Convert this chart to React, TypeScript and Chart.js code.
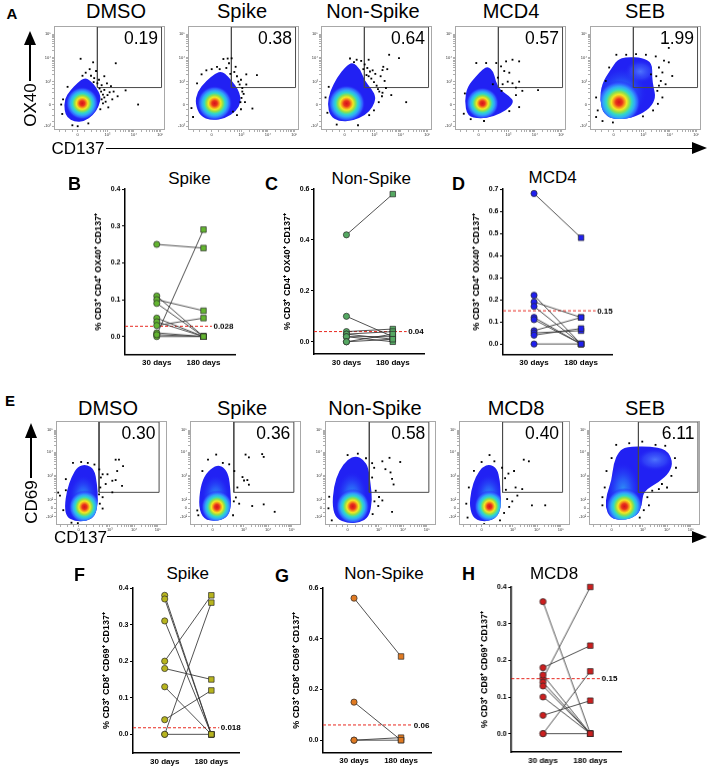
import React, { useEffect, useRef } from 'react';
import { Chart, registerables } from 'chart.js';

Chart.register(...registerables);
const FONT = "'Liberation Sans', Arial, Helvetica, sans-serif";
Chart.defaults.font.family = FONT;
Chart.defaults.color = '#000';

// ---------------- Flow cytometry panels: data (axis units) ----------------
const FLOW_A_TITLES = ['DMSO', 'Spike', 'Non-Spike', 'MCD4', 'SEB'];
const FLOW_A_GATE_VALUES = ['0.19', '0.38', '0.64', '0.57', '1.99'];
const FLOW_E_TITLES = ['DMSO', 'Spike', 'Non-Spike', 'MCD8', 'SEB'];
const FLOW_E_GATE_VALUES = ['0.30', '0.36', '0.58', '0.40', '6.11'];

const FLOW_A_X_TICKS = [0, 1.12, 2.11, 3.1];
const FLOW_A_X_LABELS = ['0', '10³', '10⁴', '10⁵'];
const FLOW_A_Y_TICKS = [-0.92, 0, 0.97, 1.98, 2.99];
const FLOW_A_Y_LABELS = ['-10³', '0', '10³', '10⁴', '10⁵'];
const FLOW_E_X_TICKS = [0, 1.22, 2.17, 3.1];
const FLOW_E_X_LABELS = ['0', '10³', '10⁴', '10⁵'];
const FLOW_E_Y_TICKS = [-0.37, 0, 0.38, 1.4, 2.42, 3.38];
const FLOW_E_Y_LABELS = ['-10²', '0', '10²', '10³', '10⁴', '10⁵'];

const FLOW_A_X_RANGE = [-0.89, 3.28];
const FLOW_A_Y_RANGE = [-1.08, 3.33];
const FLOW_E_X_RANGE = [-0.885, 3.46];
const FLOW_E_Y_RANGE = [-0.72, 3.77];

const FLOW_A_GATES = [
  [0.74, 3.15, 0.72, 3.29], [0.74, 3.15, 0.72, 3.29], [0.74, 3.15, 0.72, 3.29],
  [0.74, 3.15, 0.72, 3.29], [0.74, 3.15, 0.72, 3.29],
];
const FLOW_E_GATES = [
  [0.8, 3.15, 0.69, 3.73], [0.83, 3.18, 0.69, 3.73], [0.85, 3.18, 0.69, 3.73],
  [0.82, 3.17, 0.69, 3.73], [1.05, 3.38, 0.69, 3.73],
];

// density outlines (x, y in axis units)
const A_DMSO_OUTLINE = [[-0.5, -0.25], [-0.5, 0.22], [-0.28, 0.6], [0.0, 0.92], [0.26, 1.15], [0.5, 1.0], [0.7, 0.72], [0.88, 0.35], [0.8, -0.08], [0.58, -0.45], [0.25, -0.72], [-0.12, -0.74], [-0.4, -0.55]];
const A_SPIKE_OUTLINE = [[-0.62, 0.05], [-0.55, 0.52], [-0.22, 1.0], [0.14, 1.32], [0.38, 1.42], [0.62, 1.18], [0.88, 0.84], [1.06, 0.47], [1.1, 0.1], [0.92, -0.28], [0.52, -0.58], [0.0, -0.68], [-0.44, -0.5]];
const A_NONSPIKE_OUTLINE = [[-0.65, 0.0], [-0.55, 0.58], [-0.28, 1.15], [0.04, 1.62], [0.3, 1.8], [0.58, 1.52], [0.75, 1.0], [1.02, 0.65], [1.18, 0.3], [1.05, -0.12], [0.78, -0.45], [0.3, -0.7], [-0.22, -0.72], [-0.55, -0.48]];
const A_MCD4_OUTLINE = [[-0.53, 0.17], [-0.43, 0.75], [-0.1, 1.2], [0.15, 1.5], [0.35, 1.62], [0.56, 1.4], [0.63, 1.02], [0.8, 0.62], [1.18, 0.34], [1.33, 0.1], [1.07, -0.22], [0.55, -0.52], [0.04, -0.6], [-0.43, -0.5]];
const A_SEB_OUTLINE = [[-0.52, 0.17], [-0.45, 0.88], [-0.12, 1.48], [0.14, 1.9], [0.47, 2.02], [1.09, 1.98], [1.45, 1.76], [1.44, 1.14], [1.5, 0.72], [1.58, 0.3], [1.38, -0.14], [0.86, -0.52], [0.1, -0.66], [-0.38, -0.43]];

const E_DMSO_OUTLINE = [[-0.55, 0.06], [-0.46, 0.78], [-0.27, 1.38], [-0.04, 1.8], [0.29, 1.9], [0.62, 1.68], [0.72, 1.07], [0.77, 0.34], [0.66, -0.33], [0.3, -0.56], [-0.16, -0.56], [-0.47, -0.37]];
const E_SPIKE_OUTLINE = [[-0.55, 0.06], [-0.48, 0.92], [-0.27, 1.52], [0.13, 1.86], [0.42, 1.8], [0.63, 1.45], [0.7, 0.78], [0.73, 0.06], [0.57, -0.4], [0.14, -0.56], [-0.35, -0.48]];
const E_NONSPIKE_OUTLINE = [[-0.6, 0.05], [-0.55, 0.92], [-0.33, 1.65], [0.0, 2.12], [0.33, 2.27], [0.63, 2.1], [0.82, 1.74], [0.9, 1.05], [0.97, 0.35], [0.84, -0.38], [0.46, -0.62], [0.0, -0.64], [-0.44, -0.45]];
const E_MCD8_OUTLINE = [[-0.48, 0.06], [-0.41, 0.78], [-0.23, 1.38], [0.04, 1.8], [0.31, 1.9], [0.6, 1.74], [0.72, 1.2], [0.74, 0.62], [0.77, 0.06], [0.6, -0.4], [0.18, -0.59], [-0.3, -0.48]];
const E_SEB_OUTLINE = [[-0.25, 0.06], [-0.19, 0.62], [0.0, 1.19], [0.07, 1.92], [0.28, 2.46], [0.56, 2.65], [1.46, 2.68], [2.14, 2.56], [2.4, 2.03], [2.28, 1.57], [1.87, 1.14], [1.24, 0.74], [1.19, 0.13], [1.0, -0.34], [0.43, -0.53], [-0.06, -0.41]];

// density cores: kind, centre x, centre y, radius x, radius y (axis units)
const A_DMSO_CORES = [{ kind: 'hot', cx: 0.17, cy: 0.05, rx: 0.62, ry: 0.7 }];
const A_SPIKE_CORES = [{ kind: 'hot', cx: 0.11, cy: 0.05, rx: 0.66, ry: 0.74 }];
const A_NONSPIKE_CORES = [{ kind: 'hot', cx: 0.07, cy: 0.04, rx: 0.7, ry: 0.78 }];
const A_MCD4_CORES = [{ kind: 'hot', cx: 0.14, cy: 0.05, rx: 0.62, ry: 0.68 }];
const A_SEB_CORES = [
  { kind: 'lite', cx: 1.0, cy: 1.4, rx: 0.6, ry: 0.5 },
  { kind: 'cool', cx: 0.3, cy: 0.5, rx: 0.95, ry: 1.1 },
  { kind: 'hot', cx: 0.2, cy: 0.1, rx: 0.82, ry: 0.92 },
];
const E_DMSO_CORES = [{ kind: 'cool', cx: 0.18, cy: 0.55, rx: 0.55, ry: 0.9 }, { kind: 'hot', cx: 0.23, cy: 0.06, rx: 0.62, ry: 0.72 }];
const E_SPIKE_CORES = [{ kind: 'cool', cx: 0.12, cy: 0.55, rx: 0.55, ry: 0.9 }, { kind: 'hot', cx: 0.17, cy: 0.06, rx: 0.62, ry: 0.72 }];
const E_NONSPIKE_CORES = [{ kind: 'cool', cx: 0.17, cy: 0.6, rx: 0.6, ry: 1.0 }, { kind: 'hot', cx: 0.2, cy: 0.08, rx: 0.66, ry: 0.76 }];
const E_MCD8_CORES = [{ kind: 'cool', cx: 0.28, cy: 0.58, rx: 0.54, ry: 0.9 }, { kind: 'hot', cx: 0.31, cy: 0.08, rx: 0.6, ry: 0.7 }];
const E_SEB_CORES = [
  { kind: 'lite', cx: 1.7, cy: 2.1, rx: 0.75, ry: 0.5 },
  { kind: 'cool', cx: 0.45, cy: 0.8, rx: 0.65, ry: 1.2 },
  { kind: 'hot', cx: 0.5, cy: 0.08, rx: 0.72, ry: 0.8 },
];

// single events outside the density (x, y in axis units)
const A_DMSO_EVENTS = [[0.11, 1.94], [1.43, 1.75], [0.69, 1.42], [0.58, 1.79], [0.3, 1.35], [0.5, 1.22], [0.8, 1.05], [0.9, 0.82], [1.0, 0.62], [1.1, 0.9], [0.95, 0.42], [1.2, 0.52], [1.3, 0.22], [1.05, 0.12], [0.9, 0.22], [1.5, 0.35], [2.27, 0.0], [1.8, 0.6], [0.74, 0.9], [0.62, 1.12], [-0.55, 0.22], [-0.58, -0.4], [-0.2, -0.88], [0.0, -0.92], [0.4, -0.8], [0.18, 1.22], [1.25, 0.78], [0.85, -0.2], [1.15, -0.12], [0.45, 1.5], [1.0, 1.2], [0.88, 0.55], [1.35, 0.55], [-0.38, 0.75], [-0.62, 0.0], [1.0, 0.3], [0.95, 0.05], [1.12, 0.4], [0.82, 0.68], [0.6, 0.95]];
const A_SPIKE_EVENTS = [[-0.38, 1.28], [0.44, 1.93], [0.75, 1.96], [0.85, 1.38], [1.0, 0.97], [1.3, 1.28], [1.08, 0.1], [1.53, -0.17], [-0.7, -0.53], [-0.76, -0.15], [0.8, -0.3], [1.12, 0.28], [0.2, 1.6], [0.55, 1.55], [0.65, 1.75], [0.9, 1.6], [0.95, 1.2], [1.15, 0.7], [1.2, 0.45], [1.1, 1.05], [-0.2, 1.45], [0.0, 1.5], [0.3, 1.5], [-0.55, 0.9], [1.1, -0.2], [0.95, -0.45], [1.25, 0.1], [0.6, 1.95], [1.7, 1.25], [1.3, 0.85], [1.15, 0.55], [1.05, 0.85], [0.7, 1.3]];
const A_NONSPIKE_EVENTS = [[0.2, 1.95], [0.45, 1.9], [0.62, 1.85], [0.75, 1.7], [0.85, 1.55], [0.95, 1.4], [0.82, 1.25], [1.0, 1.1], [1.1, 0.95], [1.2, 0.8], [1.35, 1.2], [1.5, 1.0], [1.3, 0.55], [1.4, 0.35], [1.28, 0.1], [1.1, -0.25], [0.92, -0.45], [1.6, 1.5], [1.67, 2.11], [2.04, 1.97], [2.31, 0.1], [1.75, 0.4], [0.7, 1.5], [1.15, 1.3], [1.55, 0.7], [-0.6, 0.75], [-0.72, 0.3], [-0.65, -0.35], [-0.3, -0.85], [0.5, -0.88], [1.45, 1.6], [0.9, 1.9], [1.42, 1.46], [0.35, 1.8], [1.42, 0.5], [1.25, 0.65], [0.9, 1.2], [1.05, 1.45]];
const A_MCD4_EVENTS = [[-0.09, 1.76], [0.28, 1.76], [0.66, 1.76], [0.84, 1.62], [1.03, 1.83], [1.27, 1.9], [1.52, 1.83], [0.96, 1.42], [1.15, 1.35], [1.09, 0.97], [1.27, 0.9], [1.52, 0.97], [1.4, 0.72], [1.64, 0.58], [2.23, 0.61], [0.9, 0.86], [0.86, 0.58], [1.4, 0.4], [1.52, -0.11], [1.15, -0.28], [-0.52, 0.47], [-0.56, -0.39], [0.53, 0.86], [0.72, 1.14], [-0.3, -0.62], [0.2, -0.7]];
const A_SEB_EVENTS = [[0.1, 2.11], [0.47, 2.11], [0.84, 2.14], [1.21, 2.11], [1.58, 2.04], [2.07, 2.4], [1.89, 1.86], [2.07, 1.79], [1.7, 1.57], [1.83, 1.36], [2.2, 1.21], [1.77, 1.0], [1.95, 0.86], [1.64, 0.58], [1.83, 0.3], [1.66, 0.03], [1.48, -0.25], [1.1, -0.5], [-0.6, -0.25], [-0.66, -0.53], [-0.42, -0.7], [-0.03, -0.76], [-0.66, 0.3], [-0.3, 1.0], [-0.17, 1.57], [1.4, 1.28], [1.6, 1.2], [1.7, 0.8]];

const E_DMSO_EVENTS = [[-0.22, 1.96], [0.1, 2.0], [0.36, 1.96], [0.62, 1.89], [0.81, 1.68], [0.94, 1.47], [1.13, 1.47], [1.32, 1.19], [1.45, 1.22], [1.58, 2.1], [1.74, 1.82], [1.7, 0.97], [1.32, 0.69], [1.06, 1.05], [0.87, 1.33], [0.94, 0.48], [0.83, 0.2], [0.94, -0.01], [-0.8, 0.68], [-0.73, 0.55], [-0.6, -0.08], [-0.5, 1.26], [-0.5, 0.78], [-0.28, -0.62], [-0.03, -0.64], [1.45, 2.1], [1.51, 1.61], [0.85, 0.9], [0.8, 0.6]];
const E_SPIKE_EVENTS = [[1.29, 2.32], [1.94, 2.34], [2.0, 2.22], [1.42, 2.2], [1.17, 1.35], [1.23, 1.2], [1.42, 1.02], [2.0, 0.17], [2.43, -0.15], [1.55, 0.1], [-0.4, 1.61], [-0.18, 2.1], [0.14, 2.32], [0.4, 1.96], [0.65, 1.9], [0.85, 1.61], [0.97, 0.9], [0.91, 0.47], [0.83, 0.3], [1.04, 0.2], [-0.6, -0.09], [-0.56, -0.3], [0.8, -0.3], [1.36, 1.22]];
const E_NONSPIKE_EVENTS = [[1.36, 2.03], [1.64, 2.18], [2.06, 2.0], [1.48, 1.69], [1.68, 1.55], [1.74, 1.27], [1.8, 1.03], [1.23, 0.49], [1.36, 0.34], [1.74, -0.15], [1.04, 1.75], [1.1, 0.76], [0.96, 1.33], [-0.72, 0.5], [-0.75, 0.0], [-0.62, -0.52], [0.0, 2.3], [0.4, 2.36], [0.72, 2.16], [0.96, 1.95], [1.05, 0.3], [0.98, -0.25], [1.2, 0.1]];
const E_MCD8_EVENTS = [[1.08, 0.06], [1.65, 2.1], [1.85, 2.03], [1.27, 1.61], [1.33, 0.9], [1.59, 0.83], [1.97, 0.13], [2.49, 0.13], [0.5, 2.03], [0.31, 2.3], [0.0, 2.0], [-0.3, 1.62], [-0.5, 0.9], [-0.6, 0.2], [-0.55, -0.4], [0.8, 1.75], [0.92, 1.3], [0.95, 0.8], [1.0, 0.4], [0.88, -0.2], [0.72, -0.52], [1.2, 0.3], [1.4, 0.55], [0.1, -0.68], [1.05, 1.5]];
const E_SEB_EVENTS = [[0.18, 2.74], [0.69, 2.81], [1.2, 2.88], [1.72, 2.74], [2.1, 2.7], [2.48, 2.17], [2.52, 1.75], [2.34, 1.4], [1.97, 1.05], [1.59, 0.76], [1.4, 0.48], [1.46, 0.13], [1.26, -0.08], [1.1, -0.4], [-0.2, 1.61], [-0.27, 0.9], [-0.36, 0.48], [-0.36, 0.13], [0.0, 2.17], [1.85, 0.83], [2.17, 0.9]];

// ---------------- Paired plots: data ----------------
const B_DAY30 = [0.25, 0.005, 0.11, 0.10, 0.09, 0.05, 0.04, 0.03, 0.01, 0.0, 0.005];
const B_DAY180 = [0.24, 0.29, 0.0, 0.07, 0.0, 0.0, 0.0, 0.05, 0.0, 0.0, 0.0];
const B_Y_TICKS = [0, 0.1, 0.2, 0.3, 0.4];
const B_THRESHOLD = 0.028;

const C_DAY30 = [0.42, 0.10, 0.04, 0.03, 0.03, 0.02, 0.02, 0.0, 0.0];
const C_DAY180 = [0.58, 0.02, 0.05, 0.01, 0.04, 0.0, 0.02, 0.03, 0.01];
const C_Y_TICKS = [0, 0.2, 0.4, 0.6];
const C_THRESHOLD = 0.04;

const D_DAY30 = [0.68, 0.22, 0.19, 0.17, 0.12, 0.11, 0.06, 0.05, 0.04, 0.0];
const D_DAY180 = [0.48, 0.0, 0.12, 0.0, 0.0, 0.0, 0.12, 0.06, 0.07, 0.0];
const D_Y_TICKS = [0, 0.1, 0.2, 0.3, 0.4, 0.5, 0.6, 0.7];
const D_THRESHOLD = 0.15;

const F_DAY30 = [0.38, 0.37, 0.31, 0.20, 0.18, 0.13, 0.04, 0.0, 0.0];
const F_DAY180 = [0.0, 0.0, 0.0, 0.38, 0.15, 0.0, 0.12, 0.36, 0.0];
const F_Y_TICKS = [0, 0.1, 0.2, 0.3, 0.4];
const F_THRESHOLD = 0.018;

const G_DAY30 = [0.56, 0.15, 0.0, 0.0];
const G_DAY180 = [0.33, 0.0, 0.01, 0.0];
const G_Y_TICKS = [0, 0.2, 0.4, 0.6];
const G_THRESHOLD = 0.06;

const H_DAY30 = [0.36, 0.18, 0.15, 0.16, 0.14, 0.13, 0.10, 0.05, 0.0, 0.0];
const H_DAY180 = [0.0, 0.24, 0.40, 0.0, 0.0, 0.0, 0.0, 0.09, 0.17, 0.0];
const H_Y_TICKS = [0, 0.1, 0.2, 0.3, 0.4];
const H_THRESHOLD = 0.15;

const DAY_LABELS = ['30 days', '180 days'];
const CD4_TITLE = '% CD3⁺ CD4⁺ OX40⁺ CD137⁺';
const CD8_TITLE = '% CD3⁺ CD8⁺ CD69⁺ CD137⁺';

// ---------------- styles ----------------
const BLOB_BLUE = '#2121f3';
const STOPS = {
  hot: [[0, '#d6121a'], [0.15, '#e8341c'], [0.25, '#f5901c'], [0.35, '#f3e823'], [0.47, '#8fe04c'], [0.59, '#30d8c8'], [0.72, '#31a8f8'], [0.86, '#2f5cff'], [1, 'rgba(33,33,243,0)']],
  cool: [[0, 'rgba(50,175,245,0.8)'], [0.4, 'rgba(45,125,250,0.6)'], [0.75, 'rgba(40,75,248,0.3)'], [1, 'rgba(33,33,243,0)']],
  lite: [[0, 'rgba(85,130,255,0.85)'], [0.6, 'rgba(60,90,250,0.5)'], [1, 'rgba(33,33,243,0)']],
};

function logMinors(a: number, b: number) {
  const out: number[] = [];
  for (let j = 2; j <= 9; j++) out.push(a + (b - a) * Math.log10(j));
  return out;
}

function smoothPath(ctx: CanvasRenderingContext2D, pts: number[][]) {
  const n = pts.length;
  const mid = (a: number[], b: number[]) => [(a[0] + b[0]) / 2, (a[1] + b[1]) / 2];
  const m0 = mid(pts[n - 1], pts[0]);
  ctx.beginPath();
  ctx.moveTo(m0[0], m0[1]);
  for (let i = 0; i < n; i++) {
    const p = pts[i];
    const q = pts[(i + 1) % n];
    const mm = mid(p, q);
    ctx.quadraticCurveTo(p[0], p[1], mm[0], mm[1]);
  }
  ctx.closePath();
}

function FlowChart(props: any) {
  const ref = useRef<HTMLCanvasElement>(null);
  const { left, top, w, h } = props;
  const padL = 16, padB = 10, padT = 2, padR = 2;
  useEffect(() => {
    const p = props;
    const labelFor = (majors: number[], labels: string[]) => (v: any) => {
      const i = majors.findIndex((m) => Math.abs(m - Number(v)) < 1e-6);
      return i >= 0 ? labels[i] : '';
    };
    const xAll = [...p.xTicks, ...p.xMinor];
    const yAll = [...p.yTicks, ...p.yMinor];
    const [gx0, gx1, gy0, gy1] = p.gate;
    const density = {
      id: 'density',
      beforeDatasetsDraw(chart: any) {
        const { ctx, chartArea, scales } = chart;
        const x = scales.x, y = scales.y;
        const pts = p.outline.map((q: number[]) => [x.getPixelForValue(q[0]), y.getPixelForValue(q[1])]);
        ctx.save();
        ctx.beginPath();
        ctx.rect(chartArea.left, chartArea.top, chartArea.width, chartArea.height);
        ctx.clip();
        smoothPath(ctx, pts);
        ctx.fillStyle = BLOB_BLUE;
        ctx.fill();
        ctx.clip();
        for (const c of p.cores) {
          const cx = x.getPixelForValue(c.cx);
          const cy = y.getPixelForValue(c.cy);
          const rx = Math.abs(x.getPixelForValue(c.cx + c.rx) - cx);
          const ry = Math.abs(y.getPixelForValue(c.cy + c.ry) - cy);
          ctx.save();
          ctx.translate(cx, cy);
          ctx.scale(1, ry / rx);
          const g = ctx.createRadialGradient(0, 0, 0, 0, 0, rx);
          (STOPS as any)[c.kind].forEach((s: any) => g.addColorStop(s[0], s[1]));
          ctx.fillStyle = g;
          ctx.beginPath();
          ctx.arc(0, 0, rx, 0, Math.PI * 2);
          ctx.fill();
          ctx.restore();
        }
        ctx.restore();
      },
    };
    const frame = {
      id: 'frame',
      afterDatasetsDraw(chart: any) {
        const { ctx, chartArea, scales } = chart;
        ctx.save();
        ctx.strokeStyle = '#a8a8a8';
        ctx.lineWidth = 1;
        ctx.strokeRect(chartArea.left + 0.5, chartArea.top + 0.5, chartArea.width - 1, chartArea.height - 1);
        ctx.font = `17.5px ${FONT}`;
        ctx.fillStyle = '#000';
        ctx.textAlign = 'right';
        ctx.textBaseline = 'alphabetic';
        ctx.fillText(p.gateLabel, scales.x.getPixelForValue(gx1) - 3.5, scales.y.getPixelForValue(gy1) + 16.7);
        ctx.restore();
      },
    };
    const axisCommon = {
      type: 'linear',
      grid: { display: true, drawOnChartArea: false, drawTicks: true, tickLength: 2, color: '#777', lineWidth: 0.6 },
      border: { display: false },
    };
    const chart = new Chart(ref.current as HTMLCanvasElement, {
      type: 'scatter',
      data: {
        datasets: [
          {
            data: p.events.map((e: number[]) => ({ x: e[0], y: e[1] })),
            pointStyle: 'rect', pointRadius: 1.3, pointBackgroundColor: '#000', pointBorderWidth: 0, showLine: false,
          },
          {
            data: [{ x: gx0, y: gy0 }, { x: gx1, y: gy0 }, { x: gx1, y: gy1 }, { x: gx0, y: gy1 }, { x: gx0, y: gy0 }],
            showLine: true, borderColor: '#4a4a4a', borderWidth: 1, pointRadius: 0, fill: false, tension: 0,
          },
        ],
      } as any,
      options: {
        animation: false,
        responsive: true,
        maintainAspectRatio: false,
        events: [],
        layout: { padding: { top: padT, right: padR, left: 0, bottom: 0 } },
        plugins: { legend: { display: false }, tooltip: { enabled: false }, title: { display: false } },
        scales: {
          x: {
            ...axisCommon,
            min: p.xRange[0], max: p.xRange[1],
            afterBuildTicks: (s: any) => { s.ticks = xAll.map((v: number) => ({ value: v })); },
            afterFit: (s: any) => { s.height = padB; },
            ticks: { autoSkip: false, maxRotation: 0, minRotation: 0, font: { size: 4 }, padding: 0, color: '#333', callback: labelFor(p.xTicks, p.xLabels) },
          },
          y: {
            ...axisCommon,
            min: p.yRange[0], max: p.yRange[1],
            afterBuildTicks: (s: any) => { s.ticks = yAll.map((v: number) => ({ value: v })); },
            afterFit: (s: any) => { s.width = padL; },
            ticks: { autoSkip: false, font: { size: 4 }, padding: 1, color: '#333', callback: labelFor(p.yTicks, p.yLabels) },
          },
        },
      } as any,
      plugins: [density, frame],
    });
    return () => chart.destroy();
  }, []);
  return (
    <div style={{ position: 'absolute', left: left - padL, top: top - padT, width: w + padL + padR, height: h + padT + padB }}>
      <canvas ref={ref} />
    </div>
  );
}

function PairedChart({ cfg }: any) {
  const ref = useRef<HTMLCanvasElement>(null);
  const padL = 48, padT = 6, padR = 4, padB = 18;
  const left = cfg.axisX - padL;
  const top = cfg.topPx - padT;
  const width = padL + (cfg.rightPx - cfg.axisX) + padR;
  const height = padT + (cfg.bottomPx - cfg.topPx) + padB;
  useEffect(() => {
    const datasets: any[] = [];
    datasets.push({
      data: cfg.day30.map((v: number) => ({ x: 0, y: v })), showLine: false, pointStyle: 'circle', pointRadius: 3.1,
      pointBackgroundColor: cfg.color, pointBorderColor: '#2a2a2a', pointBorderWidth: 0.7, clip: false,
    });
    datasets.push({
      data: cfg.day180.map((v: number) => ({ x: 1, y: v })), showLine: false, pointStyle: 'rect', pointRadius: 3.9,
      pointBackgroundColor: cfg.color, pointBorderColor: '#2a2a2a', pointBorderWidth: 0.7, clip: false,
    });
    cfg.day30.forEach((v: number, i: number) => {
      datasets.push({
        data: [{ x: 0, y: v }, { x: 1, y: cfg.day180[i] }], showLine: true, borderColor: '#333',
        borderWidth: 0.85, pointRadius: 0, clip: false,
      });
    });
    datasets.push({
      data: [{ x: cfg.xMin, y: cfg.threshold }, { x: cfg.thrEnd, y: cfg.threshold }], showLine: true,
      borderColor: '#e8281f', borderWidth: 1, borderDash: [3, 2], pointRadius: 0, clip: false,
    });
    const thrLabel = {
      id: 'thrLabel',
      afterDatasetsDraw(chart: any) {
        const { ctx, scales } = chart;
        ctx.save();
        ctx.font = `bold 8px ${FONT}`;
        ctx.fillStyle = '#000';
        ctx.textAlign = 'left';
        ctx.textBaseline = 'middle';
        ctx.fillText(String(cfg.threshold), scales.x.getPixelForValue(cfg.thrEnd) + 1.5, scales.y.getPixelForValue(cfg.threshold) + 0.5);
        ctx.restore();
      },
    };
    const chart = new Chart(ref.current as HTMLCanvasElement, {
      type: 'scatter',
      data: { datasets },
      options: {
        animation: false,
        responsive: true,
        maintainAspectRatio: false,
        events: [],
        layout: { padding: { top: padT, right: padR, left: 0, bottom: 0 } },
        plugins: { legend: { display: false }, tooltip: { enabled: false } },
        scales: {
          x: {
            type: 'linear', min: cfg.xMin, max: cfg.xMax,
            afterBuildTicks: (s: any) => { s.ticks = [{ value: 0 }, { value: 1 }]; },
            afterFit: (s: any) => { s.height = padB; },
            grid: { display: false, drawTicks: false },
            border: { display: true, color: '#000', width: 1.5 },
            ticks: { autoSkip: false, maxRotation: 0, padding: 3.5, font: { size: 8, weight: 'bold' }, color: '#000', callback: (v: any) => DAY_LABELS[Number(v)] ?? '' },
          },
          y: {
            type: 'linear', min: cfg.yMin, max: cfg.yMax,
            afterBuildTicks: (s: any) => { s.ticks = cfg.yTicks.map((v: number) => ({ value: v })); },
            afterFit: (s: any) => { s.width = padL; },
            grid: { display: true, drawOnChartArea: false, drawTicks: true, tickLength: 3, color: '#000', lineWidth: 1 },
            border: { display: true, color: '#000', width: 1.5 },
            ticks: { autoSkip: false, padding: 1.5, font: { size: 7, weight: 'bold' }, color: '#000', callback: (v: any) => Number(v).toFixed(1) },
            title: { display: true, text: cfg.yTitle, color: '#000', font: { size: 9, weight: 'bold' }, padding: { top: 16.6, bottom: 0 } },
          },
        },
      } as any,
      plugins: [thrLabel],
    });
    return () => chart.destroy();
  }, []);
  return (
    <div style={{ position: 'absolute', left, top, width, height }}>
      <canvas ref={ref} />
    </div>
  );
}

function Txt({ x, y, size, bold = false, anchor = 'start', children }: any) {
  const tx = anchor === 'middle' ? 'translateX(-50%)' : anchor === 'end' ? 'translateX(-100%)' : 'none';
  return (
    <div style={{ position: 'absolute', left: x, top: y - 0.8465 * size, fontSize: size, lineHeight: `${size}px`, fontWeight: bold ? 700 : 400, fontFamily: FONT, whiteSpace: 'nowrap', transform: tx, color: '#000' }}>
      {children}
    </div>
  );
}

function VTxt({ cx, cy, size, children }: any) {
  return (
    <div style={{ position: 'absolute', left: cx, top: cy, fontSize: size, lineHeight: `${size}px`, fontFamily: FONT, whiteSpace: 'nowrap', transform: 'translate(-50%,-50%) rotate(-90deg)', color: '#000' }}>
      {children}
    </div>
  );
}

function Bar({ x, y, w, h }: any) {
  return <div style={{ position: 'absolute', left: x, top: y, width: w, height: h, background: '#000' }} />;
}

function ArrowUp({ tipX, tipY, len, half }: any) {
  return <div style={{ position: 'absolute', left: tipX - half, top: tipY, width: 0, height: 0, borderLeft: `${half}px solid transparent`, borderRight: `${half}px solid transparent`, borderBottom: `${len}px solid #000` }} />;
}

function ArrowRight({ tipX, tipY, len, half }: any) {
  return <div style={{ position: 'absolute', left: tipX - len, top: tipY - half, width: 0, height: 0, borderTop: `${half}px solid transparent`, borderBottom: `${half}px solid transparent`, borderLeft: `${len}px solid #000` }} />;
}

// ---------------- layout ----------------
const FLOW_W = 113;
const FLOW_H = 106;
const FLOW_A_TOP = 24;
const FLOW_E_TOP = 419;
const FLOW_A_LEFTS = [54, 188, 321, 455, 590];
const FLOW_E_LEFTS = [56, 190, 325, 459, 589];
const FLOW_A_TITLE_X = [116, 242, 373, 511, 645];
const FLOW_E_TITLE_X = [108, 242, 375, 516, 645];

const A_OUTLINES = [A_DMSO_OUTLINE, A_SPIKE_OUTLINE, A_NONSPIKE_OUTLINE, A_MCD4_OUTLINE, A_SEB_OUTLINE];
const A_CORES = [A_DMSO_CORES, A_SPIKE_CORES, A_NONSPIKE_CORES, A_MCD4_CORES, A_SEB_CORES];
const A_EVENTS = [A_DMSO_EVENTS, A_SPIKE_EVENTS, A_NONSPIKE_EVENTS, A_MCD4_EVENTS, A_SEB_EVENTS];
const E_OUTLINES = [E_DMSO_OUTLINE, E_SPIKE_OUTLINE, E_NONSPIKE_OUTLINE, E_MCD8_OUTLINE, E_SEB_OUTLINE];
const E_CORES = [E_DMSO_CORES, E_SPIKE_CORES, E_NONSPIKE_CORES, E_MCD8_CORES, E_SEB_CORES];
const E_EVENTS = [E_DMSO_EVENTS, E_SPIKE_EVENTS, E_NONSPIKE_EVENTS, E_MCD8_EVENTS, E_SEB_EVENTS];

const A_X_MINOR = [-0.7, -0.45, -0.2, 0.25, 0.5, 0.7, 0.85, 0.97, 1.05, ...logMinors(1.12, 2.11), ...logMinors(2.11, 3.1)];
const A_Y_MINOR = [-0.7, -0.45, -0.2, 0.25, 0.5, 0.7, 0.85, ...logMinors(0.97, 1.98), ...logMinors(1.98, 2.99)];
const E_X_MINOR = [-0.7, -0.45, -0.2, 0.3, 0.6, 0.8, 0.95, 1.08, 1.15, ...logMinors(1.22, 2.17), ...logMinors(2.17, 3.1)];
const E_Y_MINOR = [-0.2, 0.2, ...logMinors(0.38, 1.4), ...logMinors(1.4, 2.42), ...logMinors(2.42, 3.38)];

const PAIRED = [
  { key: 'B', day30: B_DAY30, day180: B_DAY180, yTicks: B_Y_TICKS, threshold: B_THRESHOLD, color: '#63b530', yTitle: CD4_TITLE,
    axisX: 125, topPx: 189.3, bottomPx: 354, rightPx: 236, yMin: -0.049, yMax: 0.4, xMin: -0.68, xMax: 1.68, thrEnd: 1.18 },
  { key: 'C', day30: C_DAY30, day180: C_DAY180, yTicks: C_Y_TICKS, threshold: C_THRESHOLD, color: '#55a862', yTitle: CD4_TITLE,
    axisX: 314, topPx: 189, bottomPx: 354, rightPx: 425, yMin: -0.048, yMax: 0.6, xMin: -0.7, xMax: 1.68, thrEnd: 1.3 },
  { key: 'D', day30: D_DAY30, day180: D_DAY180, yTicks: D_Y_TICKS, threshold: D_THRESHOLD, color: '#2020ee', yTitle: CD4_TITLE,
    axisX: 502.7, topPx: 189.3, bottomPx: 354, rightPx: 613, yMin: -0.048, yMax: 0.7, xMin: -0.66, xMax: 1.67, thrEnd: 1.31 },
  { key: 'F', day30: F_DAY30, day180: F_DAY180, yTicks: F_Y_TICKS, threshold: F_THRESHOLD, color: '#b7b41e', yTitle: CD8_TITLE,
    axisX: 133, topPx: 587.7, bottomPx: 752.7, rightPx: 240, yMin: -0.051, yMax: 0.4, xMin: -0.68, xMax: 1.6, thrEnd: 1.17 },
  { key: 'G', day30: G_DAY30, day180: G_DAY180, yTicks: G_Y_TICKS, threshold: G_THRESHOLD, color: '#e07a22', yTitle: CD8_TITLE,
    axisX: 322.7, topPx: 587.7, bottomPx: 752.3, rightPx: 432, yMin: -0.049, yMax: 0.6, xMin: -0.66, xMax: 1.65, thrEnd: 1.24 },
  { key: 'H', day30: H_DAY30, day180: H_DAY180, yTicks: H_Y_TICKS, threshold: H_THRESHOLD, color: '#cc1f1f', yTitle: CD8_TITLE,
    axisX: 511, topPx: 587.3, bottomPx: 752.3, rightPx: 620.7, yMin: -0.05, yMax: 0.4, xMin: -0.67, xMax: 1.65, thrEnd: 1.21 },
];

export default function App() {
  return (
    <div style={{ position: 'absolute', left: 0, top: 0, width: 711, height: 767, background: '#fff', overflow: 'hidden', fontFamily: FONT }}>
      {/* Row A */}
      <Txt x={6.5} y={18.5} size={15} bold>A</Txt>
      {FLOW_A_TITLES.map((t, i) => (
        <Txt key={'at' + i} x={FLOW_A_TITLE_X[i]} y={18.3} size={20} anchor="middle">{t}</Txt>
      ))}
      {FLOW_A_TITLES.map((t, i) => (
        <FlowChart key={'af' + i} left={FLOW_A_LEFTS[i]} top={FLOW_A_TOP} w={FLOW_W} h={FLOW_H}
          outline={A_OUTLINES[i]} cores={A_CORES[i]} events={A_EVENTS[i]} gate={FLOW_A_GATES[i]} gateLabel={FLOW_A_GATE_VALUES[i]}
          xRange={FLOW_A_X_RANGE} yRange={FLOW_A_Y_RANGE} xTicks={FLOW_A_X_TICKS} xLabels={FLOW_A_X_LABELS} xMinor={A_X_MINOR}
          yTicks={FLOW_A_Y_TICKS} yLabels={FLOW_A_Y_LABELS} yMinor={A_Y_MINOR} />
      ))}
      <VTxt cx={30} cy={105} size={17}>OX40</VTxt>
      <ArrowUp tipX={30} tipY={30.5} len={14} half={6} />
      <Bar x={29.3} y={44} w={1.4} h={37} />
      <Txt x={51.5} y={154} size={17}>CD137</Txt>
      <Bar x={106} y={147.6} w={587} h={1.4} />
      <ArrowRight tipX={707} tipY={148.3} len={15} half={6} />

      {/* Row E */}
      <Txt x={5} y={405.5} size={15} bold>E</Txt>
      {FLOW_E_TITLES.map((t, i) => (
        <Txt key={'et' + i} x={FLOW_E_TITLE_X[i]} y={415} size={20} anchor="middle">{t}</Txt>
      ))}
      {FLOW_E_TITLES.map((t, i) => (
        <FlowChart key={'ef' + i} left={FLOW_E_LEFTS[i]} top={FLOW_E_TOP} w={FLOW_W} h={FLOW_H}
          outline={E_OUTLINES[i]} cores={E_CORES[i]} events={E_EVENTS[i]} gate={FLOW_E_GATES[i]} gateLabel={FLOW_E_GATE_VALUES[i]}
          xRange={FLOW_E_X_RANGE} yRange={FLOW_E_Y_RANGE} xTicks={FLOW_E_X_TICKS} xLabels={FLOW_E_X_LABELS} xMinor={E_X_MINOR}
          yTicks={FLOW_E_Y_TICKS} yLabels={FLOW_E_Y_LABELS} yMinor={E_Y_MINOR} />
      ))}
      <VTxt cx={31} cy={502.4} size={17}>CD69</VTxt>
      <ArrowUp tipX={31} tipY={423} len={15} half={6} />
      <Bar x={30.3} y={437} w={1.4} h={41} />
      <Txt x={54} y={543} size={17}>CD137</Txt>
      <Bar x={107} y={536} w={586} h={1.4} />
      <ArrowRight tipX={707} tipY={536.7} len={15} half={6} />

      {/* Paired plot letters and titles */}
      <Txt x={68} y={190} size={18} bold>B</Txt>
      <Txt x={265} y={190.5} size={18} bold>C</Txt>
      <Txt x={452} y={190} size={18} bold>D</Txt>
      <Txt x={74} y={581} size={18} bold>F</Txt>
      <Txt x={275} y={582} size={18} bold>G</Txt>
      <Txt x={462} y={580} size={18} bold>H</Txt>
      <Txt x={189.5} y={184} size={17} anchor="middle">Spike</Txt>
      <Txt x={371.3} y={184} size={17} anchor="middle">Non-Spike</Txt>
      <Txt x={552.7} y={183} size={17} anchor="middle">MCD4</Txt>
      <Txt x={187.7} y={579} size={17} anchor="middle">Spike</Txt>
      <Txt x={384} y={579} size={17} anchor="middle">Non-Spike</Txt>
      <Txt x={554} y={579} size={17} anchor="middle">MCD8</Txt>

      {PAIRED.map((c) => <PairedChart key={c.key} cfg={c} />)}
    </div>
  );
}
